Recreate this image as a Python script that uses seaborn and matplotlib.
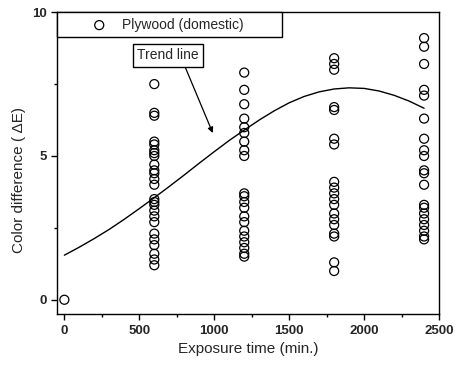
import numpy as np
import pandas as pd
import seaborn as sns
import matplotlib.pyplot as plt
from matplotlib.ticker import MultipleLocator

time_0 = [0.0]
time_600 = [7.5, 6.5, 6.4, 5.5, 5.4, 5.2, 5.1, 5.0, 4.7, 4.5, 4.4, 4.2, 4.0,
            3.5, 3.4, 3.3, 3.1, 2.9, 2.7, 2.3, 2.1, 1.9, 1.6, 1.4, 1.2]
time_1200 = [7.9, 7.3, 6.8, 6.3, 6.0, 5.8, 5.5, 5.2, 5.0, 3.7, 3.6, 3.4, 3.2,
             2.9, 2.7, 2.4, 2.2, 2.0, 1.8, 1.6, 1.5]
time_1800 = [8.4, 8.2, 8.0, 6.7, 6.6, 5.6, 5.4, 4.1, 3.9, 3.7, 3.5, 3.3, 3.0,
             2.8, 2.6, 2.3, 2.2, 1.3, 1.0]
time_2400 = [9.1, 8.8, 8.2, 7.3, 7.1, 6.3, 5.6, 5.2, 5.0, 4.5, 4.4, 4.0, 3.3,
             3.2, 3.0, 2.8, 2.6, 2.4, 2.2, 2.1]

# trend line
trend_x = [0, 100, 200, 300, 400, 500, 600, 700, 800, 900, 1000, 1100, 1200,
           1300, 1400, 1500, 1600, 1700, 1800, 1900, 2000, 2100, 2200, 2300, 2400]
trend_y = [1.55, 1.83, 2.13, 2.45, 2.80, 3.17, 3.55, 3.94, 4.34, 4.75, 5.15,
           5.54, 5.90, 6.25, 6.57, 6.85, 7.07, 7.23, 7.33, 7.37, 7.35, 7.26,
           7.11, 6.91, 6.66]

groups = {0: time_0, 600: time_600, 1200: time_1200, 1800: time_1800, 2400: time_2400}
points = pd.DataFrame([(t, v) for t, vals in groups.items() for v in vals],
                      columns=['time', 'dE'])
trend = pd.DataFrame({'time': trend_x, 'dE': trend_y})

sns.set_style('ticks')
plt.rcParams['font.family'] = ['Liberation Sans', 'DejaVu Sans']

fig, ax = plt.subplots(figsize=(4.55, 3.7), dpi=100)
fig.subplots_adjust(left=0.125, right=0.965, top=0.967, bottom=0.151)

sns.lineplot(data=trend, x='time', y='dE', color='black', lw=1.0, ax=ax)
sns.scatterplot(data=points, x='time', y='dE', ax=ax, s=42, marker='o',
                facecolor='none', edgecolor='black', linewidth=0.9,
                label='Plywood (domestic)', zorder=3)

ax.set_xlim(-50, 2500)
ax.set_ylim(-0.5, 10)
ax.xaxis.set_major_locator(MultipleLocator(500))
ax.xaxis.set_minor_locator(MultipleLocator(250))
ax.yaxis.set_major_locator(MultipleLocator(5))
ax.yaxis.set_minor_locator(MultipleLocator(2.5))
ax.tick_params(which='both', direction='out', color='black', width=1)
ax.tick_params(which='major', length=4, labelsize=9.5)
ax.tick_params(which='minor', length=2.5)
for lab in ax.get_xticklabels() + ax.get_yticklabels():
    lab.set_fontweight('bold')
for sp in ax.spines.values():
    sp.set_color('black')
    sp.set_linewidth(1.0)

ax.set_xlabel('Exposure time (min.)', fontsize=11)
ax.set_ylabel('Color difference ( \u0394E)', fontsize=11)
ax.yaxis.set_label_coords(-0.08, 0.445)

leg = ax.legend(loc='upper left', bbox_to_anchor=(0, 1, 0.59, 0), mode='expand',
                borderaxespad=0, fancybox=False, edgecolor='black', framealpha=1,
                fontsize=10, handlelength=5.3, handletextpad=-1.0,
                borderpad=0.4, markerscale=1.0)
leg.get_frame().set_linewidth(1.0)

ax.annotate('Trend line', xy=(990, 5.8), xytext=(690, 8.5), fontsize=10,
            ha='center', va='center',
            bbox=dict(boxstyle='square,pad=0.3', fc='white', ec='black', lw=1),
            arrowprops=dict(arrowstyle='-|>', color='black', lw=0.9,
                            shrinkA=0, shrinkB=0, mutation_scale=8,
                            relpos=(0.75, 0)))

fig.savefig('out.png', dpi=100)
